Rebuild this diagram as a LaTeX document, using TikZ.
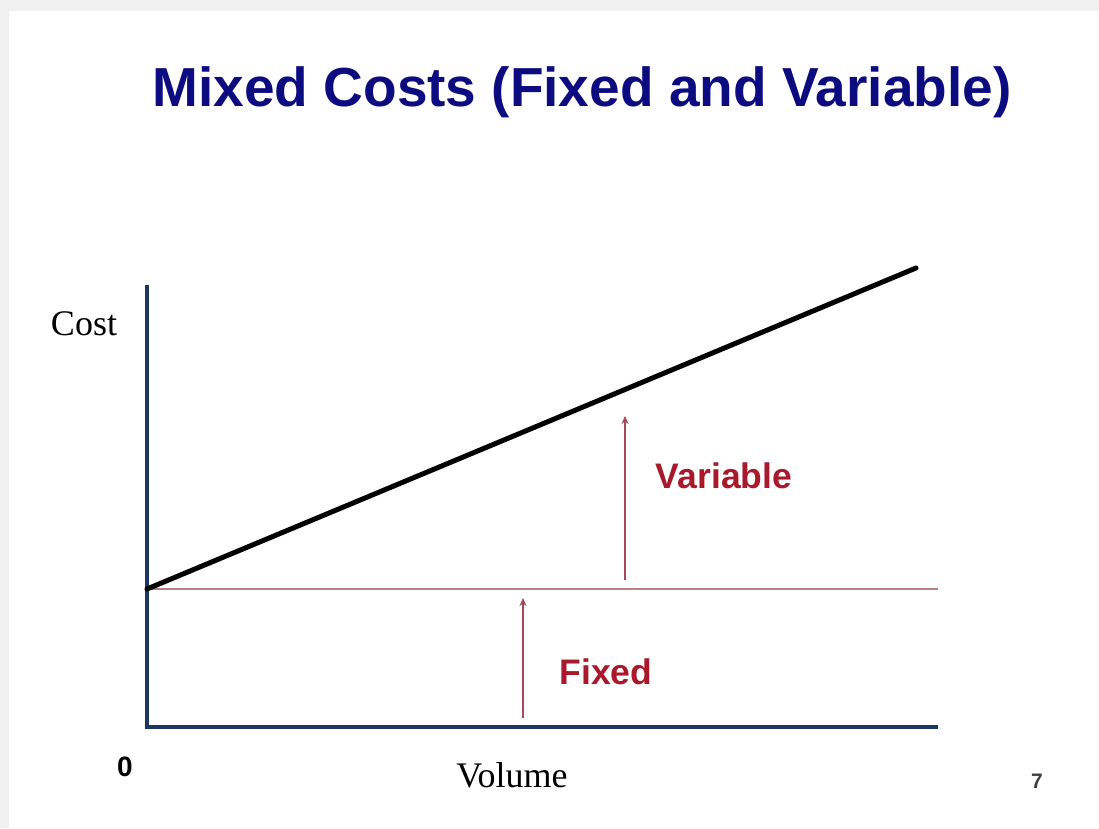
\documentclass[tikz,border=0pt]{standalone}
\usepackage{fontspec}
\setmainfont{Liberation Serif}
\setsansfont{Liberation Sans}
\usetikzlibrary{arrows.meta}
\definecolor{bggrey}{HTML}{F0F0F0}
\definecolor{titlenavy}{HTML}{0C0C80}
\definecolor{axisnavy}{HTML}{1B3660}
\definecolor{thinred}{HTML}{B88080}
\definecolor{arrowred}{HTML}{A84858}
\definecolor{labelred}{HTML}{A8192B}
\definecolor{pagegrey}{HTML}{404040}
\begin{document}
\begin{tikzpicture}[x=1pt,y=-1pt,
  axisline/.style={draw=axisnavy,line width=4.5pt},
  costline/.style={draw=black,line width=5pt},
  baseline/.style={draw=thinred,line width=1.6pt},
  partarrow/.style={draw=arrowred,line width=1.4pt,-{Stealth[length=8pt,width=7pt]}},
  partlabel/.style={font=\sffamily\bfseries\fontsize{35.5}{40}\selectfont,text=labelred},
  axislabel/.style={font=\fontsize{36}{42}\selectfont,text=black}]
\useasboundingbox (0,0) rectangle (1099,828);
\fill[bggrey] (0,0) rectangle (1099,828);
\fill[white] (9,11) rectangle (1099,828);
\node[font=\sffamily\bfseries\fontsize{55}{62}\selectfont,text=titlenavy] (title) at (582,92) {Mixed Costs (Fixed and Variable)};
\coordinate (ytop) at (147,287);
\coordinate (origin) at (147,727);
\coordinate (xend) at (936,727);
\coordinate (fixstart) at (147,589);
\coordinate (fixend) at (938,589);
\coordinate (lineend) at (916,268);
\draw[baseline] (fixstart) -- (fixend);
\draw[axisline,line cap=rect] (ytop) -- (origin) -- (xend);
\draw[costline,line cap=round] (fixstart) -- (lineend);
\coordinate (vbot) at (625,580);
\coordinate (vtop) at (625,416);
\coordinate (fbot) at (523,718);
\coordinate (ftop) at (523,598);
\draw[partarrow] (vbot) -- (vtop);
\draw[partarrow] (fbot) -- (ftop);
\node[partlabel] (variable) at (724,476) {Variable};
\node[partlabel] (fixed) at (606,672) {Fixed};
\node[axislabel] (cost) at (84,324) {Cost};
\node[axislabel] (volume) at (512,775) {Volume};
\node[font=\sffamily\bfseries\fontsize{28}{32}\selectfont] (zero) at (125,767) {0};
\node[font=\sffamily\bfseries\fontsize{21}{25}\selectfont,text=pagegrey] (page) at (1037,781) {7};
\end{tikzpicture}
\end{document}
